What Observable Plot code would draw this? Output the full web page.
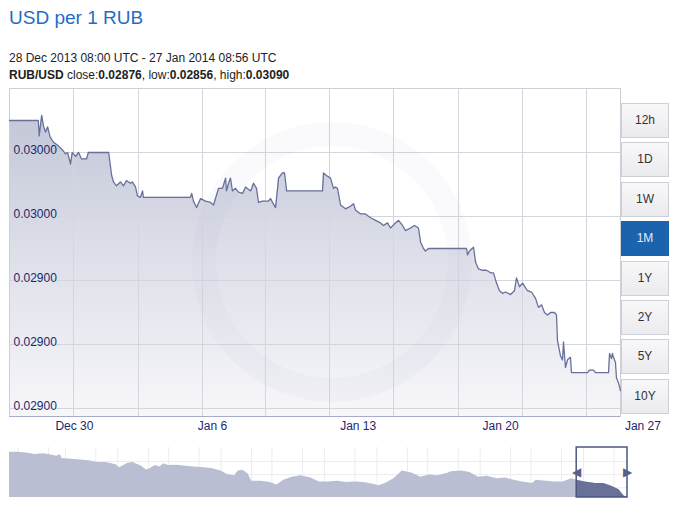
<!DOCTYPE html>
<html>
<head>
<meta charset="utf-8">
<script src="https://cdn.jsdelivr.net/npm/d3@7"></script>
<script src="https://cdn.jsdelivr.net/npm/@observablehq/plot@0.6"></script>
<style>
  body { margin: 0; background: #fff; font-family: "Liberation Sans", Arial, sans-serif; }
  #wrap { position: relative; width: 690px; height: 508px; overflow: hidden; background: #fff; }
  #title { position: absolute; left: 9px; top: 7px; font-size: 19px; line-height: 22px; color: #1f6dc4; }
  .sub { position: absolute; left: 9px; font-size: 12px; line-height: 14px; color: #222; white-space: nowrap; }
  #main { position: absolute; left: 0; top: 84px; }
  #nav { position: absolute; left: 0; top: 444px; }
  .btn { position: absolute; left: 621px; width: 46px; height: 33px; border: 1px solid #cfd0d6;
         background: linear-gradient(#f8f8fa, #ebebef); color: #333; font-size: 12px; line-height: 33px; text-align: center; }
  .btn.sel { background: #1b63ac; border-color: #1b63ac; color: #e3ebf6; }
  #mark { position: absolute; left: 192px; top: 122px; width: 232px; height: 232px; border-radius: 50%;
          border: 24px solid rgba(150,158,195,0.05); pointer-events: none; }
</style>
</head>
<body>
<div id="wrap">
  <div id="title"></div>
  <div id="range" class="sub" style="top:51px"></div>
  <div id="stats" class="sub" style="top:68px"></div>
  <div id="main"></div>
  <div id="mark"></div>
  <div id="nav"></div>
</div>
<script>
// ---------- header ----------
const titleText = "USD per 1 RUB";
const rangeText = "28 Dec 2013 08:00 UTC - 27 Jan 2014 08:56 UTC";
const pairName = "RUB/USD";
const statNames = ["close", "low", "high"];
const statValues = [0.02876, 0.02856, 0.03090];

// ---------- main series (RUB/USD, 1 month) ----------
const dates = [
  "2013-12-28T08:00Z","2013-12-29T18:00Z","2013-12-29T19:00Z","2013-12-29T22:00Z","2013-12-30T00:00Z",
  "2013-12-30T02:30Z","2013-12-30T05:00Z","2013-12-30T08:00Z","2013-12-30T12:00Z","2013-12-30T18:00Z",
  "2013-12-30T22:30Z","2013-12-31T02:00Z","2013-12-31T04:30Z","2013-12-31T08:00Z","2013-12-31T10:00Z",
  "2013-12-31T14:00Z","2013-12-31T17:30Z","2013-12-31T21:00Z","2014-01-01T03:00Z","2014-01-01T05:00Z",
  "2014-01-02T05:00Z","2014-01-02T07:00Z","2014-01-02T08:30Z","2014-01-02T10:45Z","2014-01-02T14:15Z",
  "2014-01-02T19:00Z","2014-01-02T22:30Z","2014-01-03T02:00Z","2014-01-03T06:45Z","2014-01-03T09:00Z",
  "2014-01-03T12:45Z","2014-01-03T15:00Z","2014-01-03T18:30Z","2014-01-03T21:00Z","2014-01-03T22:00Z",
  "2014-01-06T05:30Z","2014-01-06T07:00Z","2014-01-06T09:00Z","2014-01-06T12:45Z","2014-01-06T17:30Z",
  "2014-01-06T23:15Z","2014-01-07T05:15Z","2014-01-07T08:45Z","2014-01-07T14:40Z","2014-01-07T19:20Z",
  "2014-01-07T23:00Z","2014-01-08T00:00Z","2014-01-08T02:30Z","2014-01-08T04:45Z","2014-01-08T07:00Z",
  "2014-01-08T10:40Z","2014-01-08T14:15Z","2014-01-08T19:00Z","2014-01-08T22:30Z","2014-01-09T04:30Z",
  "2014-01-09T08:00Z","2014-01-09T11:30Z","2014-01-09T13:45Z","2014-01-09T18:30Z","2014-01-10T01:30Z",
  "2014-01-10T04:00Z","2014-01-10T06:20Z","2014-01-10T10:00Z","2014-01-10T13:30Z","2014-01-10T18:00Z",
  "2014-01-10T20:30Z","2014-01-10T23:00Z","2014-01-12T17:20Z","2014-01-12T18:30Z","2014-01-12T22:00Z",
  "2014-01-13T02:45Z","2014-01-13T06:20Z","2014-01-13T08:40Z","2014-01-13T11:00Z","2014-01-13T14:35Z",
  "2014-01-13T20:30Z","2014-01-14T02:20Z","2014-01-14T06:00Z","2014-01-14T08:15Z","2014-01-14T14:10Z",
  "2014-01-14T20:00Z","2014-01-15T02:00Z","2014-01-15T08:00Z","2014-01-15T13:45Z","2014-01-15T17:20Z",
  "2014-01-15T22:00Z","2014-01-16T01:30Z","2014-01-16T07:30Z","2014-01-16T11:00Z","2014-01-16T15:45Z",
  "2014-01-16T19:15Z","2014-01-17T01:10Z","2014-01-17T06:00Z","2014-01-17T10:35Z","2014-01-17T13:00Z",
  "2014-01-17T16:30Z","2014-01-17T18:50Z","2014-01-17T22:25Z","2014-01-19T19:15Z","2014-01-19T20:25Z",
  "2014-01-19T22:45Z","2014-01-20T03:30Z","2014-01-20T06:00Z","2014-01-20T09:25Z","2014-01-20T14:05Z",
  "2014-01-20T18:50Z","2014-01-20T23:35Z","2014-01-21T03:05Z","2014-01-21T06:40Z","2014-01-21T10:10Z",
  "2014-01-21T13:40Z","2014-01-21T17:15Z","2014-01-21T23:10Z","2014-01-22T03:50Z","2014-01-22T06:15Z",
  "2014-01-22T09:45Z","2014-01-22T13:20Z","2014-01-22T19:10Z","2014-01-22T23:55Z","2014-01-23T04:40Z",
  "2014-01-23T08:10Z","2014-01-23T11:45Z","2014-01-23T15:15Z","2014-01-23T18:50Z","2014-01-23T22:20Z",
  "2014-01-24T03:05Z","2014-01-24T05:25Z","2014-01-24T06:35Z","2014-01-24T10:10Z","2014-01-24T12:30Z",
  "2014-01-24T13:40Z","2014-01-24T16:00Z","2014-01-24T18:25Z","2014-01-24T21:55Z","2014-01-24T23:05Z",
  "2014-01-25T18:00Z","2014-01-25T20:20Z","2014-01-26T01:05Z","2014-01-26T03:25Z","2014-01-26T18:50Z",
  "2014-01-26T20:00Z","2014-01-26T22:20Z","2014-01-26T23:30Z","2014-01-27T00:40Z","2014-01-27T03:00Z",
  "2014-01-27T04:10Z","2014-01-27T06:35Z","2014-01-27T08:56Z"
];
const rates = [
  0.03075,0.03075,0.03063,0.03079,0.03071,
  0.03066,0.03070,0.03062,0.03058,0.03055,
  0.03052,0.03049,0.03050,0.03041,0.03050,
  0.03047,0.03050,0.03045,0.03045,0.03050,
  0.03050,0.03040,0.03032,0.03027,0.03024,
  0.03027,0.03024,0.03028,0.03026,0.03027,
  0.03023,0.03016,0.03015,0.03020,0.03015,
  0.03015,0.03018,0.03012,0.03007,0.03014,
  0.03012,0.03011,0.03009,0.03022,0.03022,
  0.03030,0.03020,0.03026,0.03030,0.03020,
  0.03022,0.03019,0.03018,0.03023,0.03020,
  0.03026,0.03022,0.03011,0.03012,0.03012,
  0.03014,0.03011,0.03007,0.03030,0.03034,
  0.03034,0.03020,0.03020,0.03034,0.03032,
  0.03030,0.03022,0.03023,0.03022,0.03009,
  0.03006,0.03008,0.03010,0.03005,0.03002,
  0.03002,0.02999,0.02997,0.02995,0.02993,
  0.02995,0.02991,0.02995,0.02997,0.02993,
  0.02989,0.02991,0.02993,0.02991,0.02980,
  0.02975,0.02973,0.02975,0.02975,0.02970,
  0.02973,0.02976,0.02964,0.02959,0.02958,
  0.02958,0.02956,0.02956,0.02948,0.02942,
  0.02940,0.02941,0.02939,0.02942,0.02952,
  0.02945,0.02948,0.02942,0.02941,0.02936,
  0.02929,0.02931,0.02925,0.02923,0.02925,
  0.02925,0.02923,0.02903,0.02891,0.02888,
  0.02902,0.02882,0.02888,0.02890,0.02878,
  0.02878,0.02880,0.02880,0.02878,0.02878,
  0.02893,0.02889,0.02893,0.02890,0.02886,
  0.02874,0.02870,0.02864
];

// ---------- axes ----------
const xDomain = ["2013-12-28T08:00Z", "2014-01-27T08:56Z"];
const yDomain = [0.0284375, 0.0310];
const yTicks = [0.0305, 0.0300, 0.0295, 0.0290, 0.0285];
const yTickLabels = ["0.03000", "0.03000", "0.02900", "0.02900", "0.02900"];
const xTickDates = ["2013-12-30", "2014-01-06", "2014-01-13", "2014-01-20", "2014-01-27"];
const xTickLabels = ["Dec 30", "Jan 6", "Jan 13", "Jan 20", "Jan 27"];
const gridDates = ["2013-12-31T11:30Z","2014-01-03T16:15Z","2014-01-06T19:45Z","2014-01-09T22:00Z",
                   "2014-01-13T01:35Z","2014-01-16T05:05Z","2014-01-19T09:50Z","2014-01-22T13:20Z","2014-01-25T16:50Z"];

// ---------- range buttons ----------
const rangeButtons = ["12h", "1D", "1W", "1M", "1Y", "2Y", "5Y", "10Y"];
const selectedRange = "1M";

// ---------- navigator (1 year overview) ----------
const navDates = [
  "2013-01-27","2013-02-01","2013-02-06","2013-02-11","2013-02-16","2013-02-19","2013-02-24","2013-02-26","2013-02-27",
  "2013-03-04","2013-03-10","2013-03-15","2013-03-20","2013-03-25","2013-03-31","2013-04-02","2013-04-07","2013-04-10",
  "2013-04-13","2013-04-15","2013-04-18","2013-04-20","2013-04-23","2013-04-26","2013-04-28","2013-05-01","2013-05-06",
  "2013-05-11","2013-05-16","2013-05-22","2013-05-27","2013-06-01","2013-06-04","2013-06-06","2013-06-09","2013-06-11",
  "2013-06-14","2013-06-17","2013-06-19","2013-06-25","2013-06-30","2013-07-04","2013-07-08","2013-07-13","2013-07-18",
  "2013-07-24","2013-07-29","2013-08-03","2013-08-09","2013-08-14","2013-08-19","2013-08-24","2013-08-30","2013-09-02",
  "2013-09-06","2013-09-11","2013-09-16","2013-09-22","2013-09-27","2013-10-02","2013-10-07","2013-10-13","2013-10-15",
  "2013-10-21","2013-10-26","2013-10-31","2013-11-05","2013-11-11","2013-11-16","2013-11-21","2013-11-26","2013-12-02",
  "2013-12-04","2013-12-10","2013-12-15","2013-12-20","2013-12-25","2013-12-28","2014-01-02","2014-01-08","2014-01-13",
  "2014-01-18","2014-01-22","2014-01-25","2014-01-27"
];
const navRates = [
  0.03393,0.03393,0.03382,0.03366,0.03374,0.03366,0.03344,0.03366,0.03317,
  0.03306,0.03298,0.03290,0.03268,0.03268,0.03241,0.03203,0.03260,0.03268,
  0.03241,0.03222,0.03176,0.03192,0.03230,0.03214,0.03252,0.03230,0.03233,
  0.03222,0.03214,0.03203,0.03192,0.03165,0.03127,0.03116,0.03108,0.03165,
  0.03173,0.03127,0.03040,0.03040,0.03024,0.02994,0.03051,0.03089,0.03108,
  0.03078,0.03032,0.03032,0.03040,0.03024,0.03032,0.03024,0.03002,0.02986,
  0.03013,0.03070,0.03165,0.03138,0.03089,0.03116,0.03108,0.03138,0.03154,
  0.03165,0.03146,0.03089,0.03100,0.03070,0.03078,0.03051,0.03032,0.03013,
  0.03051,0.03040,0.03032,0.03032,0.03070,0.03051,0.03032,0.03013,0.03013,
  0.02975,0.02937,0.02861,0.02845
];
const navDomain = [0.02842, 0.03450];
const navWindow = ["2013-12-28", "2014-01-27"];

// ---------- header text ----------
document.getElementById("title").textContent = titleText;
document.getElementById("range").textContent = rangeText;
const statsEl = document.getElementById("stats");
statsEl.innerHTML = "<b>" + pairName + "</b> " +
  statNames.map((n, i) => n + ":<b>" + statValues[i].toFixed(5) + "</b>").join(", ");

// ---------- buttons ----------
const wrap = document.getElementById("wrap");
rangeButtons.forEach((b, i) => {
  const el = document.createElement("div");
  el.className = "btn" + (b === selectedRange ? " sel" : "");
  el.style.top = (103 + i * 39.4) + "px";
  el.textContent = b;
  wrap.appendChild(el);
});

// ---------- main chart ----------
const font = "'Liberation Sans', Arial, sans-serif";
const series = dates.map((d, i) => ({date: new Date(d), v: rates[i]}));
const x0 = new Date(xDomain[0]);
const main = Plot.plot({
  width: 690, height: 352,
  marginTop: 4, marginBottom: 20, marginLeft: 9, marginRight: 70,
  x: {type: "utc", domain: xDomain.map(d => new Date(d)), axis: null},
  y: {domain: yDomain, axis: null},
  style: {fontFamily: font, fontSize: "12px", background: "transparent", overflow: "visible"},
  marks: [
    Plot.areaY(series, {x: "date", y1: yDomain[0], y2: "v", fill: "url(#areaGrad)"}),
    Plot.ruleY(yTicks, {stroke: "#d4d5dd"}),
    Plot.ruleX(gridDates, {x: d => new Date(d), stroke: "#d4d5dd"}),
    Plot.frame({stroke: "#cdced6"}),
    Plot.ruleY([yDomain[0]], {stroke: "#a7acc8"}),
    Plot.line(series, {x: "date", y: "v", stroke: "#68709a", strokeWidth: 1.3}),
    Plot.text(yTicks, {x: () => x0, y: d => d, text: (d, i) => yTickLabels[i], textAnchor: "start",
      dx: 4, dy: -2, fill: "#1e2670", ariaLabel: "ylabels"}),
    Plot.text(xTickDates, {x: d => new Date(d), y: () => yDomain[0], text: (d, i) => xTickLabels[i],
      textAnchor: "start", dx: 12, dy: 10, fill: "#1e2670"})
  ]
});
document.getElementById("main").appendChild(main);
const svg = d3.select(main);
const grad = svg.insert("defs", ":first-child").append("linearGradient")
  .attr("id", "areaGrad").attr("x1", 0).attr("y1", 0).attr("x2", 0).attr("y2", 1);
grad.append("stop").attr("offset", 0).attr("stop-color", "#c3c7d8");
grad.append("stop").attr("offset", 0.5).attr("stop-color", "#dfe1ea");
grad.append("stop").attr("offset", 1).attr("stop-color", "#f7f7fa");
svg.selectAll('g[aria-label="ylabels"] text').each(function() {
  const b = this.getBBox();
  d3.select(this.parentNode).insert("rect", () => this)
    .attr("x", b.x - 3).attr("y", b.y).attr("width", b.width + 6).attr("height", b.height)
    .attr("fill", "#e8e9f2").attr("fill-opacity", 0.85);
});

// ---------- navigator ----------
const navSeries = navDates.map((d, i) => ({date: new Date(d), v: navRates[i]}));
const w0 = new Date(navWindow[0]), w1 = new Date(navWindow[1]);
const navMid = (navDomain[0] + navDomain[1]) / 2;
const nav = Plot.plot({
  width: 690, height: 56,
  marginTop: 3, marginBottom: 3, marginLeft: 9, marginRight: 63,
  x: {type: "utc", domain: [navSeries[0].date, navSeries[navSeries.length - 1].date], axis: null},
  y: {domain: navDomain, axis: null},
  style: {fontFamily: font, background: "transparent", overflow: "visible"},
  marks: [
    Plot.ruleX(d3.utcDay.every(18).range(navSeries[0].date, w1), {stroke: "#ececf1"}),
    Plot.ruleY([0.0328, 0.0312, 0.0296], {stroke: "#ececf1"}),
    Plot.areaY(navSeries, {x: "date", y1: navDomain[0], y2: "v", fill: "#b9bed2"}),
    Plot.areaY(navSeries.filter(d => d.date >= w0), {x: "date", y1: navDomain[0], y2: "v", fill: "#6a7199"}),
    Plot.rect([0], {x1: () => w0, x2: () => w1, y1: navDomain[0], y2: navDomain[1],
      fill: "none", stroke: "#4e5682", strokeWidth: 1.5}),
    Plot.text([w0, w1], {x: d => d, y: () => navMid, text: (d, i) => i ? "\u25B6" : "\u25C0",
      fill: "#5a6185", fontSize: 12, textAnchor: "middle"})
  ]
});
document.getElementById("nav").appendChild(nav);
</script>
</body>
</html>
